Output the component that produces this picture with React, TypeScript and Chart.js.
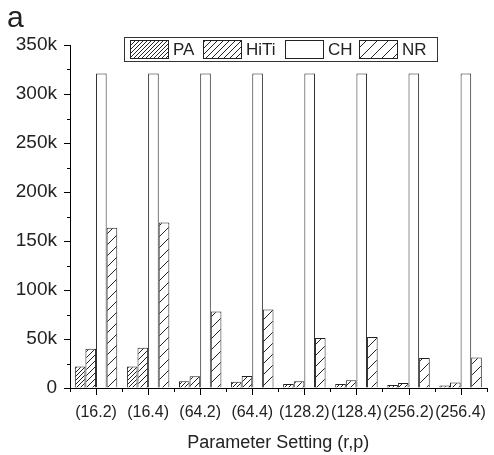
import React, { useEffect, useRef } from "react";
import { Chart, registerables } from "chart.js";

Chart.register(...registerables);

const categories = ["(16.2)", "(16.4)", "(64.2)", "(64.4)", "(128.2)", "(128.4)", "(256.2)", "(256.4)"];
const seriesNames = ["PA", "HiTi", "CH", "NR"];
const paValues = [22000, 22000, 6800, 6500, 4000, 4000, 3000, 2500];
const hitiValues = [40000, 41000, 12000, 12200, 7000, 8000, 5000, 5700];
const chValues = [321000, 321000, 321000, 321000, 321000, 321000, 321000, 321000];
const nrValues = [163600, 168800, 78000, 80000, 51000, 52000, 30600, 31000];
const yTickStep = 25000;
const yMax = 350000;

const FONT = "'Liberation Sans', Arial, Helvetica, sans-serif";
const INK = "#222";

function makeHatch(size: number): CanvasPattern | string {
  const c = document.createElement("canvas");
  c.width = size;
  c.height = size;
  const ctx = c.getContext("2d");
  if (!ctx) return "#fff";
  ctx.fillStyle = "#fff";
  ctx.fillRect(0, 0, size, size);
  ctx.strokeStyle = INK;
  ctx.lineWidth = 1;
  ctx.beginPath();
  ctx.moveTo(0, size);
  ctx.lineTo(size, 0);
  ctx.moveTo(-1, 1);
  ctx.lineTo(1, -1);
  ctx.moveTo(size - 1, size + 1);
  ctx.lineTo(size + 1, size - 1);
  ctx.stroke();
  const p = ctx.createPattern(c, "repeat");
  return p || "#fff";
}

export default function App() {
  const ref = useRef<HTMLCanvasElement | null>(null);

  useEffect(() => {
    document.body.style.margin = "0";
    const canvas = ref.current;
    if (!canvas) return;

    const fills = [makeHatch(4), makeHatch(6), "#ffffff", makeHatch(11)];
    const allValues = [paValues, hitiValues, chValues, nrValues];

    const ticksPlugin = {
      id: "customTicks",
      afterDraw(chart: any) {
        const ctx = chart.ctx;
        const x = chart.scales.x;
        const y = chart.scales.y;
        const area = chart.chartArea;
        ctx.save();
        ctx.strokeStyle = "#000";
        ctx.lineWidth = 1;
        ctx.beginPath();
        for (let v = 0; v <= yMax; v += yTickStep) {
          const py = Math.round(y.getPixelForValue(v)) + 0.5;
          const len = v % (2 * yTickStep) === 0 ? 6 : 3;
          ctx.moveTo(area.left - len, py);
          ctx.lineTo(area.left, py);
        }
        for (let i = 0; i < categories.length; i++) {
          const px = Math.round(x.getPixelForValue(i)) + 0.5;
          ctx.moveTo(px, area.bottom);
          ctx.lineTo(px, area.bottom + 7);
        }
        for (let i = 0; i <= categories.length; i++) {
          const px = Math.round(x.getPixelForValue(i - 0.5)) + 0.5;
          ctx.moveTo(px, area.bottom);
          ctx.lineTo(px, area.bottom + 4);
        }
        ctx.stroke();

        // panel letter
        ctx.fillStyle = INK;
        ctx.font = `30px ${FONT}`;
        ctx.textAlign = "left";
        ctx.textBaseline = "alphabetic";
        ctx.fillText("a", 7, 27);

        // legend
        const boxL = 124.5, boxT = 37.5, boxR = 437.5, boxB = 61.5;
        ctx.strokeStyle = "#333";
        ctx.strokeRect(boxL, boxT, boxR - boxL, boxB - boxT);
        const swX = [130, 203, 285, 359];
        ctx.font = `17px ${FONT}`;
        ctx.textBaseline = "middle";
        for (let i = 0; i < seriesNames.length; i++) {
          const sx = swX[i];
          ctx.fillStyle = fills[i] as any;
          ctx.fillRect(sx, 40, 38, 18);
          ctx.strokeStyle = "#222";
          ctx.strokeRect(sx + 0.5, 40.5, 38, 18);
          ctx.fillStyle = INK;
          ctx.fillText(seriesNames[i], sx + 43, 50);
        }
        ctx.restore();
      },
    };

    const chart = new Chart(canvas, {
      type: "bar",
      data: {
        labels: categories,
        datasets: seriesNames.map((name, i) => ({
          label: name,
          data: allValues[i],
          backgroundColor: fills[i] as any,
          borderColor: "#222",
          borderWidth: 1,
          barPercentage: 1,
          categoryPercentage: 0.815,
        })),
      },
      options: {
        responsive: false,
        animation: false,
        devicePixelRatio: 1,
        layout: { padding: { top: 45, right: 1, left: 0, bottom: 0 } },
        plugins: {
          legend: { display: false },
          tooltip: { enabled: false },
          title: { display: false },
        },
        scales: {
          x: {
            type: "category",
            offset: true,
            grid: { display: true, drawOnChartArea: false, drawTicks: true, tickLength: 7, color: "rgba(0,0,0,0)" },
            border: { display: true, color: "#000", width: 1 },
            ticks: {
              color: INK,
              font: { family: FONT, size: 16 },
              padding: 8,
              maxRotation: 0,
              autoSkip: false,
            },
            title: {
              display: true,
              text: "Parameter Setting (r,p)",
              color: INK,
              font: { family: FONT, size: 18 },
              padding: { top: 2, bottom: 1 },
            },
            afterFit: (s: any) => {
              s.height = 67;
            },
          },
          y: {
            min: 0,
            max: yMax,
            grid: { display: true, drawOnChartArea: false, drawTicks: true, tickLength: 6, color: "rgba(0,0,0,0)" },
            border: { display: true, color: "#000", width: 1 },
            ticks: {
              stepSize: yTickStep,
              autoSkip: false,
              color: INK,
              font: { family: FONT, size: 19 },
              padding: 7,
              callback: (v: any) => {
                const n = Number(v);
                if (n % (2 * yTickStep) !== 0) return "";
                return n === 0 ? "0" : `${n / 1000}k`;
              },
            },
            afterFit: (s: any) => {
              s.width = 70;
            },
          },
        },
      },
      plugins: [ticksPlugin],
    });

    return () => chart.destroy();
  }, []);

  return <canvas ref={ref} width={494} height={455} style={{ display: "block" }} />;
}
